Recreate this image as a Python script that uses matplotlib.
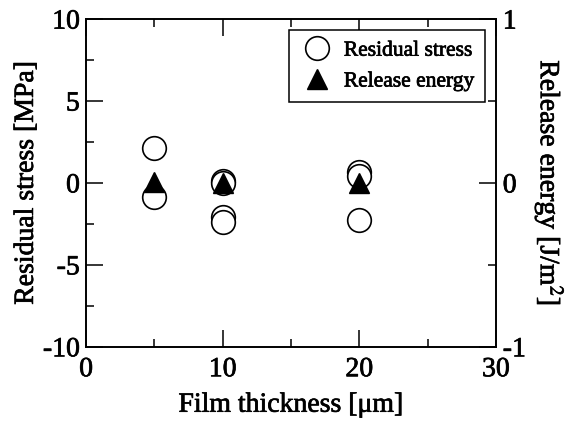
import matplotlib.pyplot as plt
import matplotlib.patheffects as pe
from matplotlib.ticker import MultipleLocator

plt.rcParams['font.family'] = ['Liberation Serif', 'DejaVu Serif']
plt.rcParams['mathtext.fontset'] = 'stix'
plt.rcParams['axes.unicode_minus'] = False

# residual stress points (MPa)
stress_x = [5, 5, 10, 10, 10, 10, 20, 20, 20]
stress_y = [2.15, -0.83, 0.1, 0.0, -2.05, -2.36, 0.65, 0.4, -2.26]

# release energy points (J/m^2)
energy_x = [5, 10, 20]
energy_y = [0.008, 0.0, 0.0]

fig = plt.figure(figsize=(5.66, 4.24), dpi=100)
ax = fig.add_axes([0.152, 0.182, 0.724, 0.773])
ax2 = ax.twinx()

c1, = ax.plot(stress_x, stress_y, 'o', ms=17, mfc='white', mec='black', mew=1.2,
              linestyle='none', label='Residual stress')
t1, = ax2.plot(energy_x, energy_y, '^', ms=15, color='black',
               linestyle='none', label='Release energy')

ax.set_xlim(0, 30)
ax.set_ylim(-10, 10)
ax2.set_ylim(-1, 1)

ax.xaxis.set_major_locator(MultipleLocator(10))
ax.xaxis.set_minor_locator(MultipleLocator(5))
ax.yaxis.set_major_locator(MultipleLocator(5))
ax.yaxis.set_minor_locator(MultipleLocator(2.5))
ax2.yaxis.set_major_locator(MultipleLocator(1))
ax2.yaxis.set_minor_locator(MultipleLocator(0.5))

ax.tick_params(which='both', direction='in', top=True, labelsize=20, width=1.1)
ax.tick_params(which='major', length=12)
ax.tick_params(which='minor', length=6)
ax.tick_params(axis='x', pad=7.5)
ax.tick_params(axis='y', pad=4.5)
ax2.tick_params(which='both', direction='in', labelsize=20, width=1.1, pad=5)
ax2.tick_params(which='major', length=12)
ax2.tick_params(which='minor', length=6)

for a in (ax, ax2):
    for s in a.spines.values():
        s.set_linewidth(1.2)

ax.set_xlabel('Film thickness [μm]', fontsize=20)
ax.set_ylabel('Residual stress [MPa]', fontsize=20)
ax2.set_ylabel('Release energy [J/m$^2$]', fontsize=20, rotation=270, va='bottom')
ax.xaxis.set_label_coords(0.5, -0.14)
ax.yaxis.set_label_coords(-0.115, 0.5)
ax2.yaxis.set_label_coords(1.09, 0.5)

leg = ax2.legend(handles=[c1, t1], loc='upper right', fontsize=15.5, fancybox=False,
                 edgecolor='black', framealpha=1, handletextpad=0.45,
                 borderaxespad=0.5, borderpad=0.5, labelspacing=0.5,
                 handlelength=1.6)
leg.get_frame().set_linewidth(1.1)

# slightly heavier glyphs
heavy = [pe.withStroke(linewidth=0.5, foreground='black')]
texts = ax.get_xticklabels() + ax.get_yticklabels() + ax2.get_yticklabels()
texts += [ax.xaxis.label, ax.yaxis.label, ax2.yaxis.label] + leg.get_texts()
for t in texts:
    t.set_path_effects(heavy)

fig.savefig('out.png', dpi=100)
